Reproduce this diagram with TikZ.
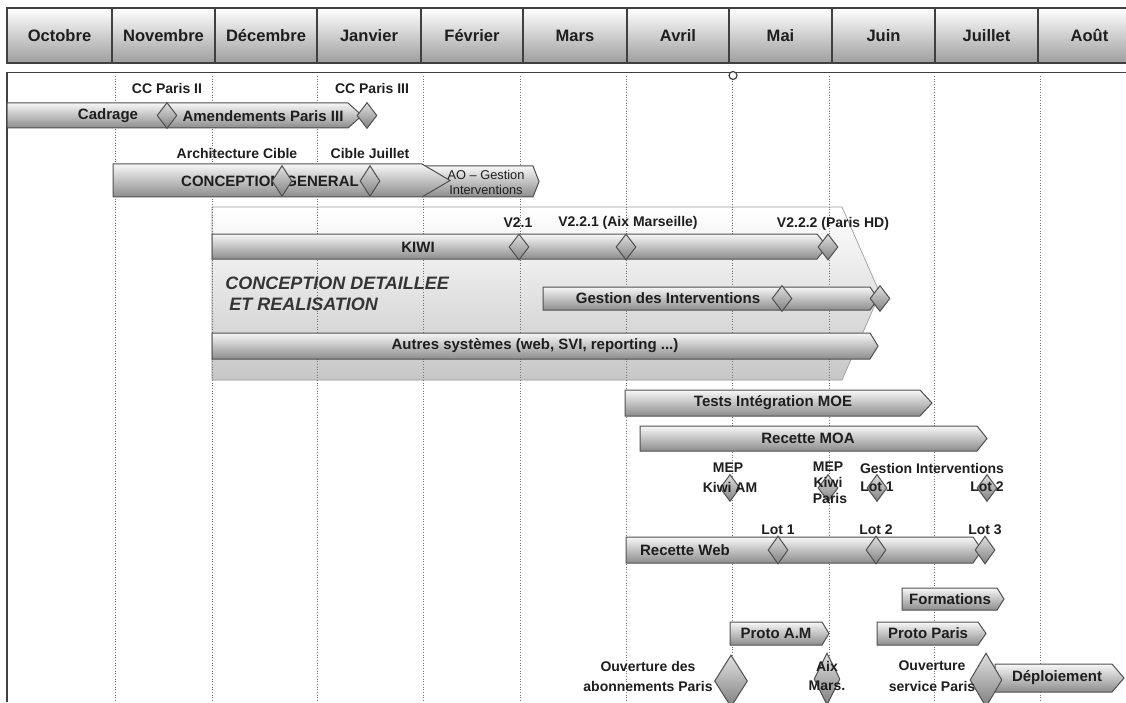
\documentclass[tikz,border=0pt]{standalone}
\usepackage{fontspec}
\setmainfont{Liberation Sans}
\usetikzlibrary{shapes.geometric}
\definecolor{ink}{HTML}{1E1E1E}
\definecolor{edge}{HTML}{505050}
\newcommand\ganttbar[5]{%
  \path[barbody] (#1,#4) -- (#2,#4) -- (#3,{(#4+#5)/2}) -- (#2,#5) -- (#1,#5) -- cycle;}
\begin{document}
\begin{tikzpicture}[x=0.75pt,y=-0.75pt,
  month/.style={draw=black!75, line width=1.3pt, top color=white, bottom color=black!38,
     font=\fontsize{12.4}{14}\selectfont\bfseries, text=ink, inner sep=0, minimum height=41.25},
  bartext/.style={font=\fontsize{11.25}{13}\selectfont\bfseries, text=ink, inner sep=0},
  lbl/.style={font=\fontsize{10.5}{12}\selectfont\bfseries, text=ink, inner sep=0},
  small/.style={font=\fontsize{9.6}{11}\selectfont, text=ink, inner sep=0},
  ttl/.style={font=\fontsize{13.5}{15}\selectfont\bfseries\itshape, text=ink!90, inner sep=0, anchor=west},
  ms/.style={diamond, draw=edge, line width=0.75pt, top color=black!12, bottom color=black!50,
     inner sep=0, minimum width=15, minimum height=19.5},
  barbody/.style={draw=edge, line width=0.75pt, top color=black!3, bottom color=black!45},
  group/.style={draw=black!40, line width=0.5pt, top color=white, bottom color=black!22},
  vdot/.style={black!55, line width=0.7pt, dash pattern=on 0.8pt off 1.2pt},
  frame/.style={draw=black!75, line width=1.2pt}
]
\useasboundingbox (0,0) rectangle (1126,702);
\clip (0,0) rectangle (1126,702);
\fill[white] (0,0) rectangle (1126,702);

% header
\foreach \n/\a/\b/\t in {1/7/112/Octobre,2/112/215/Novembre,3/215/317/Décembre,4/317/421/Janvier,
  5/421/523/Février,6/523/627/Mars,7/627/729/Avril,8/729/832/Mai,9/832/935/Juin,
  10/935/1038/Juillet,11/1038/1141/Août}
  \node[month, minimum width={(\b-\a)*0.75}] (m\n) at ({(\a+\b)/2},35.5) {\t};

% frame
\draw[frame] (7,702) -- (7,72.5) -- (1126,72.5);

% group region
\path[group] (212,207) -- (842,207) -- (880,293.5) -- (842,380) -- (212,380) -- cycle;

% dotted month lines
\foreach \x in {115,212,317,423,520,626,732,829,934,1040}
  \draw[vdot] (\x,76) -- (\x,702);

\node[circle, draw=black!75, line width=0.9pt, fill=white, minimum size=6pt, inner sep=0] (today) at (733,75.5) {};

% row 1
\ganttbar{7}{348}{362}{103}{128}
\node[bartext] (t1) at (108,116) {Cadrage};
\node[bartext] (t2) at (263,116) {Amendements Paris III};
\node[ms] (d1) at (167,115.5) {};
\node[ms] (d2) at (367,115.5) {};
\node[lbl] (l1) at (167,88) {CC Paris II};
\node[lbl] (l2) at (372,88) {CC Paris III};

% row 2
\ganttbar{422}{533}{539}{166}{197}
\ganttbar{113}{422}{450}{164}{197}
\node[bartext] (t3) at (270,181) {CONCEPTION GENERAL};
\node[ms, minimum height=23.25] (d3) at (282,181) {};
\node[ms, minimum height=23.25] (d4) at (370,181) {};
\node[small] (t4a) at (486,175) {AO – Gestion};
\node[small] (t4b) at (486,190) {Interventions};
\node[lbl] (l3) at (237,153) {Architecture Cible};
\node[lbl] (l4) at (370,153) {Cible Juillet};

% KIWI
\ganttbar{212}{817}{827}{234}{259}
\node[bartext] (t5) at (418,247) {KIWI};
\node[ms] (d5) at (519,247) {};
\node[ms] (d6) at (626,247) {};
\node[ms] (d7) at (828,247) {};
\node[lbl] (l5) at (518,223) {V2.1};
\node[lbl] (l6) at (628,223) {V2.2.1 (Aix Marseille)};
\node[lbl] (l7) at (833,224) {V2.2.2 (Paris HD)};

\node[ttl] (g1) at (225,283) {CONCEPTION DETAILLEE};
\node[ttl] (g2) at (229,304) {ET REALISATION};

% Gestion des interventions
\ganttbar{543}{870}{878}{287}{310}
\node[bartext] (t6) at (668,298.5) {Gestion des Interventions};
\node[ms] (d8) at (782,298.5) {};
\node[ms] (d9) at (880,298.5) {};

% Autres systemes
\ganttbar{212}{870}{878}{333}{359}
\node[bartext] (t7) at (535,346) {Autres systèmes (web, SVI, reporting ...)};

% Tests / Recette MOA
\ganttbar{625}{920}{932}{390}{416}
\node[bartext] (t8) at (773,403) {Tests Intégration MOE};
\ganttbar{640}{977}{987}{426}{451}
\node[bartext] (t9) at (808,438.5) {Recette MOA};

% milestones row
\node[ms, minimum height=20.25] (d10) at (730,488) {};
\node[ms, minimum height=20.25] (d11) at (828,488) {};
\node[ms, minimum height=20.25] (d12) at (877,488) {};
\node[ms, minimum height=20.25] (d13) at (987,488) {};
\node[lbl] (l8) at (728,468) {MEP};
\node[lbl] (l9) at (730,487) {Kiwi AM};
\node[lbl] (l10) at (828,467) {MEP};
\node[lbl] (l11) at (828,482) {Kiwi};
\node[lbl] (l12) at (830,498) {Paris};
\node[lbl] (l13) at (932,468) {Gestion Interventions};
\node[lbl] (l14) at (877,487) {Lot 1};
\node[lbl] (l15) at (987,487) {Lot 2};

% Recette Web
\ganttbar{626}{973}{982}{537}{563}
\node[bartext] (t10) at (685,550) {Recette Web};
\node[ms, minimum height=21] (d14) at (778,550) {};
\node[ms, minimum height=21] (d15) at (876,550) {};
\node[ms, minimum height=21] (d16) at (985,550) {};
\node[lbl] (l16) at (778,530) {Lot 1};
\node[lbl] (l17) at (876,530) {Lot 2};
\node[lbl] (l18) at (985,530) {Lot 3};

% Formations / Protos
\ganttbar{902}{997}{1004}{588}{610}
\node[bartext] (t11) at (950,599) {Formations};
\ganttbar{730}{822}{829}{622}{645}
\node[bartext] (t12) at (776,633.5) {Proto A.M};
\ganttbar{877}{978}{986}{622}{645}
\node[bartext] (t13) at (928,633.5) {Proto Paris};

% bottom row
\ganttbar{995}{1112}{1124}{664}{692}
\node[bartext] (t14) at (1057,678) {Déploiement};
\node[ms, minimum width=24.75, minimum height=39] (d17) at (731,681) {};
\node[ms, minimum width=19.5, minimum height=39] (d18) at (827,679) {};
\node[ms, minimum width=24, minimum height=40.5] (d19) at (986,680) {};
\node[lbl] (l19) at (648,666) {Ouverture des};
\node[lbl] (l20) at (648,686) {abonnements Paris};
\node[lbl] (l21) at (827,666) {Aix};
\node[lbl] (l22) at (827,686) {Mars.};
\node[lbl] (l23) at (932,666) {Ouverture};
\node[lbl] (l24) at (932,686) {service Paris};
\end{tikzpicture}
\end{document}
